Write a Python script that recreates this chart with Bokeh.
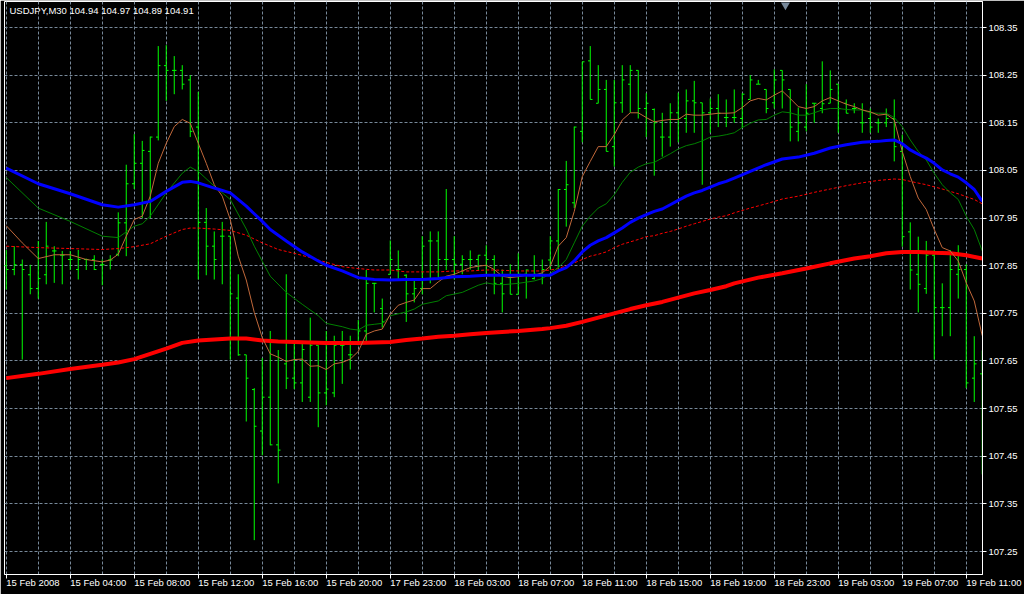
from bokeh.plotting import figure
from bokeh.models import Range1d, FixedTicker, Label, NumeralTickFormatter, ColumnDataSource
from bokeh.embed import file_html
from bokeh.resources import INLINE

TITLE = "USDJPY,M30  104.94 104.97 104.89 104.91"

time_labels = ["15 Feb 2008", "15 Feb 04:00", "15 Feb 08:00", "15 Feb 12:00",
               "15 Feb 16:00", "15 Feb 20:00", "17 Feb 23:00", "18 Feb 03:00",
               "18 Feb 07:00", "18 Feb 11:00", "18 Feb 15:00", "18 Feb 19:00",
               "18 Feb 23:00", "19 Feb 03:00", "19 Feb 07:00", "19 Feb 11:00"]
price_labels = ["107.25", "107.35", "107.45", "107.55", "107.65", "107.75",
                "107.85", "107.95", "108.05", "108.15", "108.25", "108.35"]

opens = [
    107.850, 107.842, 107.852, 107.831, 107.802, 107.831, 107.881, 107.872, 107.863, 107.842,
    107.863, 107.863, 107.852, 107.862, 107.874, 107.940, 108.022, 108.065, 108.090, 108.120,
    108.270, 108.260, 108.260, 108.240, 108.141, 107.941, 107.891, 107.912, 107.912, 107.782,
    107.663, 107.590, 107.503, 107.574, 107.474, 107.644, 107.614, 107.604, 107.574, 107.683,
    107.583, 107.583, 107.683, 107.663, 107.690, 107.713, 107.813, 107.760, 107.832, 107.842,
    107.830, 107.791, 107.802, 107.902, 107.902, 107.863, 107.863, 107.853, 107.863, 107.863,
    107.872, 107.863, 107.813, 107.825, 107.790, 107.832, 107.823, 107.832, 107.862, 107.902,
    108.010, 107.982, 108.132, 108.280, 108.191, 108.220, 108.100, 108.192, 108.231, 108.260,
    108.180, 108.178, 108.120, 108.120, 108.171, 108.159, 108.196, 108.192, 108.171, 108.180,
    108.161, 108.161, 108.159, 108.199, 108.231, 108.220, 108.192, 108.260, 108.220, 108.132,
    108.141, 108.191, 108.180, 108.191, 108.231, 108.191, 108.180, 108.150, 108.159, 108.150,
    108.150, 108.159, 108.090, 107.921, 107.832, 107.802, 107.872, 107.762, 107.762, 107.832,
    107.842, 107.614, 107.623]
highs = [
    107.883, 107.891, 107.863, 107.852, 107.902, 107.942, 107.891, 107.881, 107.881, 107.883,
    107.865, 107.872, 107.863, 107.872, 107.962, 108.062, 108.126, 108.112, 108.121, 108.311,
    108.313, 108.290, 108.271, 108.250, 108.215, 107.971, 107.922, 107.942, 107.912, 107.832,
    107.663, 107.593, 107.656, 107.713, 107.673, 107.832, 107.690, 107.692, 107.741, 107.683,
    107.713, 107.703, 107.713, 107.703, 107.736, 107.841, 107.814, 107.781, 107.903, 107.882,
    107.832, 107.823, 107.912, 107.922, 107.922, 108.011, 107.912, 107.872, 107.882, 107.872,
    107.893, 107.872, 107.842, 107.853, 107.876, 107.842, 107.872, 107.863, 107.912, 108.011,
    108.070, 108.142, 108.278, 108.311, 108.271, 108.240, 108.240, 108.271, 108.271, 108.260,
    108.212, 108.180, 108.171, 108.191, 108.213, 108.220, 108.238, 108.192, 108.201, 108.210,
    108.199, 108.220, 108.212, 108.250, 108.240, 108.220, 108.262, 108.260, 108.220, 108.182,
    108.231, 108.191, 108.279, 108.260, 108.231, 108.199, 108.191, 108.191, 108.180, 108.159,
    108.180, 108.199, 108.125, 107.941, 107.911, 107.902, 107.883, 107.813, 107.883, 107.893,
    107.853, 107.702, 107.672]
lows = [
    107.800, 107.830, 107.653, 107.790, 107.781, 107.811, 107.814, 107.811, 107.841, 107.821,
    107.841, 107.841, 107.809, 107.842, 107.870, 107.870, 108.011, 107.950, 107.950, 108.113,
    108.196, 108.210, 108.220, 108.120, 107.821, 107.830, 107.821, 107.811, 107.653, 107.661,
    107.523, 107.274, 107.452, 107.473, 107.393, 107.591, 107.591, 107.564, 107.564, 107.511,
    107.557, 107.574, 107.602, 107.632, 107.683, 107.692, 107.752, 107.720, 107.832, 107.821,
    107.732, 107.773, 107.790, 107.813, 107.821, 107.841, 107.821, 107.832, 107.842, 107.841,
    107.832, 107.790, 107.752, 107.790, 107.790, 107.781, 107.821, 107.811, 107.842, 107.842,
    107.932, 107.971, 108.109, 108.199, 108.191, 108.090, 108.058, 108.171, 108.171, 108.159,
    108.120, 108.039, 108.079, 108.100, 108.109, 108.129, 108.129, 108.020, 108.129, 108.141,
    108.141, 108.150, 108.139, 108.199, 108.231, 108.170, 108.180, 108.180, 108.111, 108.111,
    108.132, 108.150, 108.170, 108.191, 108.129, 108.170, 108.170, 108.129, 108.129, 108.129,
    108.141, 108.069, 107.890, 107.800, 107.752, 107.791, 107.653, 107.702, 107.702, 107.781,
    107.593, 107.564, 107.412]
closes = [
    107.842, 107.852, 107.842, 107.802, 107.823, 107.891, 107.881, 107.872, 107.863, 107.863,
    107.863, 107.842, 107.852, 107.862, 107.940, 108.022, 108.065, 108.092, 108.120, 108.270,
    108.260, 108.260, 108.231, 108.132, 107.941, 107.891, 107.863, 107.912, 107.791, 107.663,
    107.614, 107.513, 107.574, 107.474, 107.463, 107.614, 107.604, 107.674, 107.683, 107.583,
    107.591, 107.683, 107.683, 107.663, 107.713, 107.813, 107.813, 107.732, 107.863, 107.842,
    107.791, 107.802, 107.891, 107.902, 107.863, 107.863, 107.853, 107.863, 107.863, 107.872,
    107.863, 107.813, 107.791, 107.790, 107.832, 107.841, 107.832, 107.842, 107.902, 108.010,
    108.020, 108.141, 108.278, 108.199, 108.220, 108.090, 108.192, 108.240, 108.260, 108.180,
    108.191, 108.150, 108.120, 108.171, 108.159, 108.196, 108.192, 108.171, 108.180, 108.170,
    108.161, 108.161, 108.210, 108.240, 108.231, 108.180, 108.240, 108.240, 108.141, 108.150,
    108.170, 108.191, 108.190, 108.220, 108.180, 108.170, 108.180, 108.150, 108.141, 108.150,
    108.159, 108.100, 107.911, 107.841, 107.811, 107.872, 107.762, 107.762, 107.842, 107.842,
    107.604, 107.644, 107.623]

# moving averages: bar index, value
blue_bar = [0, 4, 8, 12, 14, 16, 18, 20, 22, 23, 24, 26, 28, 30, 32, 33, 35, 37, 39, 40, 42, 44,
            46, 48, 50, 52, 54, 56, 58, 60, 61, 68, 69, 70, 71, 72, 73, 74, 75, 76, 77, 78, 79, 80,
            81, 82, 83, 84, 85, 86, 87, 88, 89, 90, 91, 93, 95, 97, 99, 101, 103, 105, 107, 109,
            110, 111, 112, 113, 114, 115, 116, 117, 118, 119, 120, 121, 122]
blue_val = [108.055, 108.022, 108.001, 107.978, 107.973, 107.978, 107.985, 108.006, 108.025,
            108.027, 108.024, 108.013, 108.003, 107.975, 107.943, 107.926, 107.902, 107.879,
            107.860, 107.851, 107.839, 107.825, 107.821, 107.820, 107.821, 107.821, 107.823,
            107.827, 107.828, 107.830, 107.830, 107.830, 107.839, 107.846, 107.860, 107.879,
            107.893, 107.902, 107.909, 107.919, 107.929, 107.941, 107.950, 107.957, 107.964,
            107.969, 107.978, 107.987, 107.996, 108.003, 108.008, 108.015, 108.022, 108.027,
            108.034, 108.048, 108.062, 108.074, 108.078, 108.086, 108.097, 108.104, 108.109,
            108.111, 108.113, 108.114, 108.106, 108.093, 108.084, 108.076, 108.065, 108.051,
            108.043, 108.036, 108.024, 108.010, 107.985]

green_bar = [0, 4, 8, 12, 14, 16, 17, 18, 20, 22, 23, 24, 26, 28, 30, 31, 33, 35, 37, 39, 40, 42,
             43, 44, 45, 46, 47, 48, 50, 51, 52, 54, 55, 57, 59, 60, 61, 62, 64, 66, 67, 68, 69,
             70, 71, 72, 73, 74, 75, 76, 77, 78, 79, 80, 81, 82, 83, 84, 85, 86, 87, 88, 89, 90,
             91, 92, 93, 94, 95, 96, 97, 98, 99, 100, 101, 102, 103, 104, 105, 106, 107, 108,
             109, 110, 111, 112, 113, 114, 115, 116, 117, 118, 119, 120, 121, 122]
green_val = [108.035, 107.971, 107.943, 107.912, 107.909, 107.933, 107.938, 107.954, 108.003,
             108.044, 108.057, 108.048, 108.017, 107.989, 107.927, 107.891, 107.828, 107.794,
             107.769, 107.745, 107.729, 107.722, 107.717, 107.715, 107.725, 107.727, 107.729,
             107.745, 107.753, 107.759, 107.769, 107.776, 107.787, 107.794, 107.809, 107.814,
             107.811, 107.810, 107.813, 107.818, 107.823, 107.834, 107.846, 107.863, 107.898,
             107.933, 107.954, 107.971, 107.980, 107.999, 108.025, 108.046, 108.057, 108.064,
             108.067, 108.076, 108.085, 108.095, 108.102, 108.106, 108.112, 108.120, 108.122,
             108.125, 108.129, 108.140, 108.149, 108.156, 108.157, 108.166, 108.173, 108.171,
             108.166, 108.166, 108.171, 108.177, 108.180, 108.180, 108.178, 108.177, 108.177,
             108.171, 108.170, 108.170, 108.161, 108.142, 108.114, 108.090, 108.072, 108.044,
             108.020, 108.003, 107.989, 107.954, 107.926, 107.881]

brown_bar = [0, 2, 4, 6, 8, 10, 12, 13, 14, 15, 16, 17, 18, 19, 20, 21, 22, 23, 24, 25, 26, 27,
             28, 29, 30, 31, 32, 33, 34, 35, 36, 37, 38, 39, 40, 41, 42, 43, 44, 45, 46, 47, 48,
             49, 50, 51, 52, 53, 54, 55, 56, 57, 58, 59, 60, 61, 62, 63, 64, 65, 66, 67, 68, 69,
             70, 71, 72, 73, 74, 75, 76, 77, 78, 79, 80, 81, 82, 83, 84, 85, 86, 87, 88, 89, 90,
             91, 92, 93, 94, 95, 96, 97, 98, 99, 100, 101, 102, 103, 104, 105, 106, 107, 108,
             109, 110, 111, 112, 113, 114, 115, 116, 117, 118, 119, 120, 121, 122]
brown_val = [107.934, 107.898, 107.865, 107.873, 107.873, 107.863, 107.858, 107.862, 107.874,
             107.912, 107.947, 107.954, 107.996, 108.065, 108.107, 108.142, 108.157, 108.149,
             108.107, 108.065, 108.020, 107.996, 107.947, 107.870, 107.820, 107.752, 107.699,
             107.665, 107.658, 107.649, 107.653, 107.654, 107.639, 107.640, 107.632, 107.644,
             107.647, 107.654, 107.670, 107.706, 107.713, 107.717, 107.748, 107.767, 107.773,
             107.778, 107.802, 107.802, 107.816, 107.828, 107.832, 107.839, 107.846, 107.849,
             107.851, 107.842, 107.828, 107.825, 107.827, 107.830, 107.830, 107.835, 107.849,
             107.891, 107.909, 107.964, 108.037, 108.069, 108.100, 108.100, 108.125, 108.156,
             108.171, 108.171, 108.161, 108.152, 108.155, 108.157, 108.157, 108.168, 108.166,
             108.166, 108.168, 108.170, 108.170, 108.171, 108.182, 108.196, 108.201, 108.198,
             108.208, 108.217, 108.201, 108.184, 108.180, 108.184, 108.196, 108.203, 108.196,
             108.189, 108.184, 108.177, 108.173, 108.166, 108.168, 108.156, 108.090, 108.037,
             107.992, 107.968, 107.926, 107.888, 107.881, 107.860, 107.814, 107.776, 107.703]

dash_bar = [0, 4, 8, 12, 14, 16, 18, 20, 22, 23, 24, 26, 28, 30, 32, 34, 36, 38, 40, 42, 44, 46,
            48, 50, 52, 54, 56, 58, 60, 61, 64, 67, 68, 69, 70, 71, 72, 73, 74, 75, 76, 77, 78,
            79, 80, 81, 82, 83, 84, 85, 86, 87, 88, 89, 90, 91, 93, 95, 97, 99, 101, 103, 105,
            107, 109, 111, 112, 113, 115, 117, 119, 121, 122]
dash_val = [107.891, 107.888, 107.886, 107.884, 107.886, 107.890, 107.896, 107.912, 107.926,
            107.929, 107.929, 107.927, 107.924, 107.914, 107.898, 107.884, 107.876, 107.867,
            107.857, 107.848, 107.844, 107.841, 107.841, 107.837, 107.837, 107.837, 107.839,
            107.839, 107.841, 107.841, 107.839, 107.839, 107.841, 107.844, 107.850, 107.856,
            107.863, 107.870, 107.874, 107.879, 107.888, 107.895, 107.900, 107.905, 107.911,
            107.913, 107.918, 107.922, 107.927, 107.933, 107.938, 107.943, 107.948, 107.952,
            107.955, 107.961, 107.971, 107.980, 107.990, 107.996, 108.004, 108.011, 108.018,
            108.024, 108.029, 108.032, 108.031, 108.027, 108.020, 108.011, 108.001, 107.989,
            107.980]

red_bar = [0, 4, 8, 12, 14, 16, 18, 20, 22, 24, 26, 28, 30, 32, 34, 36, 38, 40, 42, 44, 46, 48,
           50, 52, 54, 56, 58, 60, 61, 64, 67, 68, 70, 72, 74, 76, 78, 80, 82, 84, 86, 88, 90,
           91, 94, 97, 100, 103, 106, 108, 110, 112, 114, 116, 118, 120, 122]
red_val = [107.614, 107.623, 107.633, 107.642, 107.647, 107.654, 107.665, 107.676, 107.688,
           107.693, 107.695, 107.697, 107.697, 107.693, 107.691, 107.690, 107.689, 107.688,
           107.688, 107.688, 107.689, 107.690, 107.694, 107.697, 107.701, 107.703, 107.706,
           107.709, 107.710, 107.713, 107.717, 107.719, 107.724, 107.732, 107.741, 107.750,
           107.759, 107.767, 107.774, 107.783, 107.792, 107.799, 107.807, 107.813, 107.825,
           107.834, 107.844, 107.855, 107.865, 107.870, 107.876, 107.879, 107.879, 107.877,
           107.876, 107.872, 107.865]

shift_marker_bar = 97.4   # chart-shift marker position at the top edge

FONT = "Liberation Sans"
FSIZE = "9.5px"
GRID = "#778899"

n = len(closes)
bars = list(range(n))
tick_len = 0.28

FRAME_W, FRAME_H = 978, 573
PX_PER_BAR = 8.0
PX_PER_PRICE = 476.4
X0 = -0.21875
X1 = X0 + FRAME_W / PX_PER_BAR
Y1 = 108.4046
Y0 = Y1 - FRAME_H / PX_PER_PRICE

src = ColumnDataSource(dict(
    x=bars, xl=[b - tick_len for b in bars], xr=[b + tick_len for b in bars],
    o=opens, h=highs, l=lows, c=closes))

p = figure(frame_width=FRAME_W, frame_height=FRAME_H, output_backend="svg",
           toolbar_location=None,
           x_range=Range1d(X0, X1), y_range=Range1d(Y0, Y1),
           y_axis_location="right", min_border_left=4, min_border_top=1,
           min_border_right=42, min_border_bottom=20)
p.background_fill_color = "black"
p.border_fill_color = "black"
p.outline_line_color = "white"
p.outline_line_width = 1

# bottom axis: time texts written left-aligned from each tick, as the terminal does
xt = [i * 8 for i in range(len(time_labels))]
p.xaxis.ticker = FixedTicker(ticks=xt)
p.xaxis.major_label_overrides = {t: s for t, s in zip(xt, time_labels)}
p.xaxis.major_label_orientation = -0.0001

p.yaxis.ticker = FixedTicker(ticks=[float(s) for s in price_labels])
p.yaxis.formatter = NumeralTickFormatter(format="0.00")
for ax in (p.xaxis[0], p.yaxis[0]):
    ax.axis_line_color = "white"
    ax.major_tick_line_color = "white"
    ax.minor_tick_line_color = None
    ax.major_tick_in = 0
    ax.major_tick_out = 4
    ax.major_label_text_color = "white"
    ax.major_label_text_font = FONT
    ax.major_label_text_font_size = FSIZE
    ax.axis_label_standoff = 0
p.yaxis.major_label_standoff = 2
p.xaxis.major_label_standoff = 4

p.xgrid.ticker = FixedTicker(ticks=list(range(0, n, 4)))
for g in (p.xgrid[0], p.ygrid[0]):
    g.grid_line_color = GRID
    g.grid_line_dash = "3 2"
    g.grid_line_width = 1

# OHLC bars
bar_col = "#00FF00"
p.segment(x0="x", y0="l", x1="x", y1="h", source=src, line_color=bar_col, line_width=1)
p.segment(x0="xl", y0="o", x1="x", y1="o", source=src, line_color=bar_col, line_width=1)
p.segment(x0="x", y0="c", x1="xr", y1="c", source=src, line_color=bar_col, line_width=1)

# moving averages
p.line(red_bar, red_val, line_color="#FF0000", line_width=4)
p.line(dash_bar, dash_val, line_color="#FF0000", line_width=1, line_dash="3 2")
p.line(green_bar, green_val, line_color="#008000", line_width=1)
p.line(brown_bar, brown_val, line_color="#C0683A", line_width=1)
p.line(blue_bar, blue_val, line_color="#0000FF", line_width=3)

# chart shift marker
p.scatter([shift_marker_bar], [Y1 - 3.5 / PX_PER_PRICE], marker="inverted_triangle", size=9,
          fill_color=GRID, line_color=None)

# title
p.add_layout(Label(x=X0 + 5 / PX_PER_BAR, y=Y1 - 9 / PX_PER_PRICE, text=TITLE,
                   text_color="white", text_font=FONT, text_font_size=FSIZE,
                   text_baseline="middle"))

open("out.html", "w").write(file_html(p, INLINE))
